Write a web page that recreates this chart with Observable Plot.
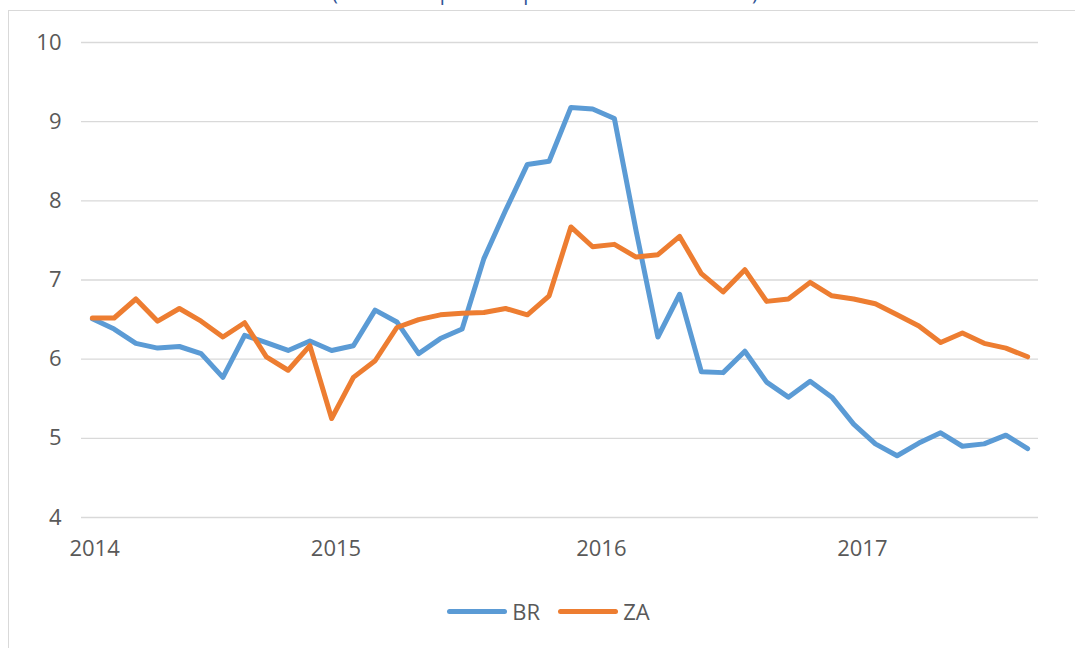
<!DOCTYPE html>
<html>
<head>
<meta charset="utf-8">
<script src="https://cdn.jsdelivr.net/npm/d3@7"></script>
<script src="https://cdn.jsdelivr.net/npm/@observablehq/plot@0.6"></script>
<style>
  html, body { margin: 0; padding: 0; background: #fff; overflow: hidden; }
  #wrap { position: relative; width: 1075px; height: 648px; overflow: hidden; font-family: "Open Sans", sans-serif; }
  #frame { position: absolute; left: 8px; top: 10px; width: 1100px; height: 700px; border: 1.5px solid #d9d9d9; box-sizing: border-box; }
  #title { position: absolute; left: 545px; top: -17px; transform: translateX(-50%); font-size: 20px; line-height: 20px; color: #2f5496; white-space: nowrap; }
  #chart { position: absolute; left: 0; top: 0; }
  #legend { position: absolute; left: 0; width: 1075px; top: 596px; display: flex; justify-content: center; align-items: center; font-size: 22px; color: #595959; padding-left: 22px; box-sizing: border-box; }
  .item { display: flex; align-items: center; margin: 0 9px; }
  .swatch { width: 60px; height: 5px; border-radius: 3px; margin-right: 5px; }
</style>
</head>
<body>
<div id="wrap">
  <div id="title">(Consumer prices in per cent over 12 months)</div>
  <div id="frame"></div>
  <div id="chart"></div>
  <div id="legend"></div>
</div>
<script>
const seriesNames = ["BR", "ZA"];
const seriesColors = ["#5B9BD5", "#ED7D31"];
const brValues = [6.51,6.38,6.20,6.14,6.16,6.07,5.77,6.30,6.21,6.11,6.23,6.11,6.17,6.62,6.47,6.07,6.26,6.38,7.27,7.88,8.46,8.50,9.18,9.16,9.04,7.62,6.28,6.82,5.84,5.83,6.10,5.71,5.52,5.72,5.52,5.18,4.93,4.78,4.94,5.07,4.90,4.93,5.04,4.87];
const zaValues = [6.52,6.52,6.76,6.48,6.64,6.48,6.28,6.46,6.03,5.86,6.17,5.25,5.77,5.98,6.40,6.50,6.56,6.58,6.59,6.64,6.56,6.80,7.67,7.42,7.45,7.29,7.32,7.55,7.08,6.85,7.13,6.73,6.76,6.97,6.80,6.76,6.70,6.56,6.42,6.21,6.33,6.20,6.14,6.03];
const xTickPos = [0.1, 11.2, 23.4, 35.4];
const xTickLabels = ["2014", "2015", "2016", "2017"];
const yTicks = [4, 5, 6, 7, 8, 9, 10];

const data = [];
brValues.forEach((v, i) => data.push({i, v, series: "BR"}));
zaValues.forEach((v, i) => data.push({i, v, series: "ZA"}));

const chart = Plot.plot({
  width: 1075,
  height: 580,
  marginLeft: 81,
  marginRight: 37,
  marginTop: 42,
  marginBottom: 63,
  style: {fontFamily: "Open Sans, sans-serif", fontSize: "22px", color: "#595959", background: "transparent"},
  x: {domain: [-0.5, brValues.length - 0.5], ticks: xTickPos, tickFormat: d => xTickLabels[xTickPos.indexOf(d)], tickSize: 0, tickPadding: 23, label: null},
  y: {domain: [4, 10], ticks: yTicks, tickFormat: d => String(d), tickSize: 0, tickPadding: 20, label: null},
  color: {domain: seriesNames, range: seriesColors},
  marks: [
    Plot.ruleY(yTicks, {stroke: "#d9d9d9", strokeWidth: 1.3}),
    Plot.line(data, {x: "i", y: "v", z: "series", stroke: "series", strokeWidth: 5, strokeLinejoin: "round", strokeLinecap: "round"})
  ]
});
document.getElementById("chart").appendChild(chart);

const legend = document.getElementById("legend");
seriesNames.forEach((name, k) => {
  const item = document.createElement("div");
  item.className = "item";
  const sw = document.createElement("div");
  sw.className = "swatch";
  sw.style.background = seriesColors[k];
  const lab = document.createElement("span");
  lab.textContent = name;
  item.appendChild(sw);
  item.appendChild(lab);
  legend.appendChild(item);
});
</script>
</body>
</html>
